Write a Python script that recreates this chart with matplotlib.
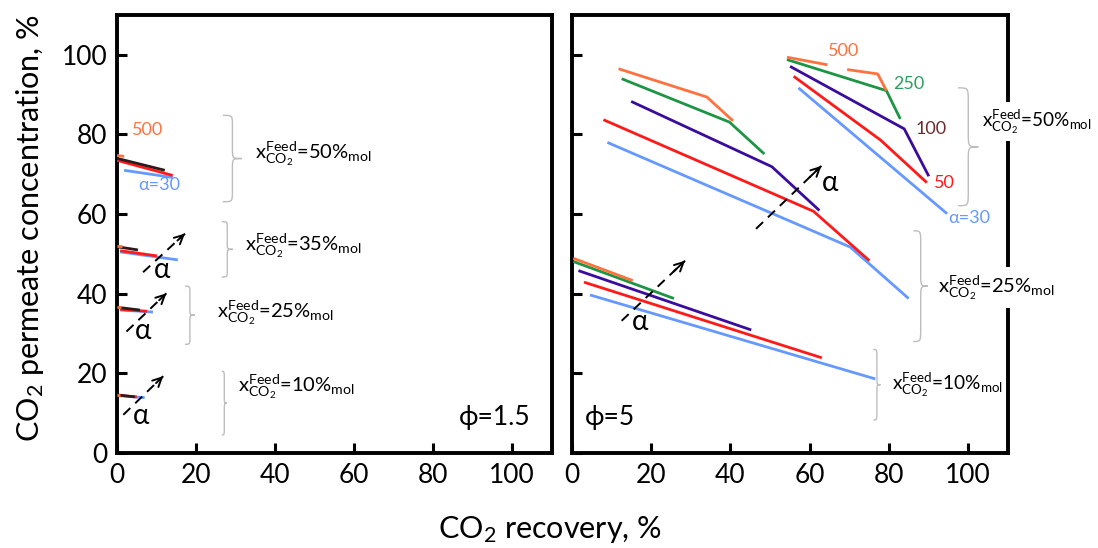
import numpy as np
import matplotlib
matplotlib.use("Agg")
import matplotlib.pyplot as plt
from matplotlib.path import Path
from matplotlib.patches import PathPatch

plt.rcParams["font.family"] = ["Lato", "DejaVu Sans"]
plt.rcParams["mathtext.fontset"] = "custom"
plt.rcParams["mathtext.rm"] = "Lato"
plt.rcParams["mathtext.it"] = "Lato:italic"
plt.rcParams["mathtext.bf"] = "Lato:bold"

nan = np.nan

# ---- phi = 1.5 : CO2 recovery (%) and permeate CO2 concentration (%) per selectivity alpha
p15_f50_rec = {500: [0, 1.8], 100: [0, 12.1], 50: [0, 14.1], 30: [1.8, 14.1]}
p15_f50_conc = {500: [74.7, 74.5], 100: [74.0, 71.0], 50: [73.5, 69.7], 30: [71.0, 69.2]}
p15_f35_rec = {500: [0, 1.3], 100: [0, 5.3], 50: [0.8, 10.1], 30: [0.8, 15.4]}
p15_f35_conc = {500: [52.0, 52.0], 100: [51.8, 51.0], 50: [50.8, 49.5], 30: [50.5, 48.5]}
p15_f25_rec = {500: [0, 1.0], 100: [0, 5.8], 50: [0.8, 7.6], 30: [0.8, 9.1]}
p15_f25_conc = {500: [36.6, 36.6], 100: [36.6, 35.9], 50: [36.1, 35.6], 30: [35.9, 35.4]}
p15_f10_rec = {500: [0, 0.8], 100: [0, 4.5], 50: [0.8, 5.0], 30: [4.0, 7.0]}
p15_f10_conc = {500: [14.6, 14.6], 100: [14.6, 14.1], 50: [14.4, 14.1], 30: [14.1, 13.9]}

# ---- phi = 5
p5_f50_rec = {500: [54.3, 64.5, nan, 69.5, 77.2, 79.4], 250: [54.3, 79.4, 82.9],
              100: [55.1, 83.9, 90.1], 50: [56.0, 77.9, 89.6], 30: [57.2, 94.7]}
p5_f50_conc = {500: [99.4, 97.5, nan, 96.3, 95.2, 91.0], 250: [98.8, 91.0, 83.9],
               100: [97.1, 81.4, 69.5], 50: [94.6, 78.6, 67.9], 30: [91.7, 60.1]}
p5_f25_rec = {500: [11.8, 34.1, 40.7], 250: [12.6, 39.8, 48.6], 100: [15.0, 50.5, 62.5],
              50: [8.0, 61.0, 75.1], 30: [9.0, 70.3, 85.0]}
p5_f25_conc = {500: [96.5, 89.4, 83.4], 250: [94.0, 83.1, 75.1], 100: [88.3, 71.9, 60.9],
               50: [83.7, 60.7, 48.3], 30: [78.0, 51.7, 38.8]}
p5_f10_rec = {500: [0.4, 15.4], 250: [0.4, 25.8], 100: [1.7, 45.3], 50: [3.1, 63.1], 30: [4.6, 76.6]}
p5_f10_conc = {500: [48.9, 43.3], 250: [48.1, 38.8], 100: [45.8, 30.9], 50: [42.9, 23.9], 30: [39.7, 18.6]}

ticks = [0, 20, 40, 60, 80, 100]
draw_order = [30, 50, 100, 250, 500]

colors_p5 = {500: "#FF7240", 250: "#1E9445", 100: "#3A0C9C", 50: "#FF1A1A", 30: "#6699FF"}
colors_p15 = {500: "#FF7240", 100: "#2E1A1A", 50: "#FF1A1A", 30: "#6699FF"}
label_colors = {500: "#FF7240", 250: "#2E9E5E", 100: "#6B2B2B", 50: "#FF1A1A", 30: "#6699FF"}
brace_color = "#BDBDBD"
FEED_FS = 14.5


def feed_label(pct):
    return r"$\mathregular{x^{Feed}_{CO_2}}$=" + f"{pct}%" + r"$\mathregular{_{mol}}$"


def brace(ax, x0, x1, ylo, yhi):
    xm = (x0 + x1) / 2
    ym = (ylo + yhi) / 2
    q = (yhi - ylo) * 0.12
    verts = [(x0, yhi), (xm, yhi), (xm, yhi), (xm, yhi - q),
             (xm, ym + q),
             (xm, ym), (xm, ym), (x1, ym),
             (xm, ym), (xm, ym), (xm, ym - q),
             (xm, ylo + q),
             (xm, ylo), (xm, ylo), (x0, ylo)]
    codes = [Path.MOVETO, Path.CURVE4, Path.CURVE4, Path.CURVE4,
             Path.LINETO,
             Path.CURVE4, Path.CURVE4, Path.CURVE4,
             Path.CURVE4, Path.CURVE4, Path.CURVE4,
             Path.LINETO,
             Path.CURVE4, Path.CURVE4, Path.CURVE4]
    ax.add_patch(PathPatch(Path(verts, codes), fill=False, ec=brace_color,
                           lw=1.0, clip_on=False, zorder=4))


def alpha_arrow(ax, start, end, label_xy):
    ax.plot([start[0], end[0]], [start[1], end[1]], color="black", lw=1.4,
            ls=(0, (5, 3.5)), clip_on=False, zorder=5)
    tip_from = (end[0] - 0.18 * (end[0] - start[0]), end[1] - 0.18 * (end[1] - start[1]))
    ax.annotate("", xy=end, xytext=tip_from,
                arrowprops=dict(arrowstyle="->", lw=1.4, color="black",
                                mutation_scale=16, shrinkA=0, shrinkB=0),
                zorder=5)
    ax.text(label_xy[0], label_xy[1], "α", fontsize=20, ha="left", va="center", zorder=5)


def draw_group(ax, rec, conc, colors):
    for a in draw_order:
        if a in rec:
            ax.plot(rec[a], conc[a], color=colors[a], lw=2.0, solid_capstyle="butt",
                    zorder=3)


fig = plt.figure(figsize=(10.98, 5.48), dpi=100)
axL = fig.add_axes([117 / 1098, 1 - 453 / 548, 434.7 / 1098, 438 / 548])
axR = fig.add_axes([571.7 / 1098, 1 - 453 / 548, 436 / 1098, 438 / 548])

for ax in (axL, axR):
    ax.set_xlim(0, 110)
    ax.set_ylim(0, 110)
    ax.set_xticks(ticks)
    ax.set_yticks(ticks)
    for s in ax.spines.values():
        s.set_linewidth(2.8)
    ax.tick_params(direction="in", length=7, width=2.2, labelsize=19, pad=7)
axR.tick_params(labelleft=False)

# ---- left panel, phi = 1.5
for rec, conc in [(p15_f50_rec, p15_f50_conc), (p15_f35_rec, p15_f35_conc),
                  (p15_f25_rec, p15_f25_conc), (p15_f10_rec, p15_f10_conc)]:
    draw_group(axL, rec, conc, colors_p15)

axL.text(3.7, 81.1, "500", color=label_colors[500], fontsize=13, ha="left", va="center")
axL.text(5.3, 67.3, "α=30", color=label_colors[30], fontsize=13, ha="left", va="center")

alpha_arrow(axL, (6.6, 45.4), (17.2, 55.1), (9.4, 46.0))
alpha_arrow(axL, (2.4, 30.5), (12.5, 40.1), (4.4, 30.6))
alpha_arrow(axL, (1.6, 9.6), (11.7, 19.3), (3.9, 9.4))

brace(axL, 26.8, 31.6, 63.1, 84.8)
brace(axL, 26.5, 29.3, 44.2, 58.1)
brace(axL, 17.2, 19.7, 27.3, 41.9)
brace(axL, 26.5, 27.8, 4.5, 20.5)

axL.text(34.8, 74.0, feed_label(50), fontsize=FEED_FS, ha="left", va="baseline", zorder=6)
axL.text(32.3, 50.8, feed_label(35), fontsize=FEED_FS, ha="left", va="baseline", zorder=6)
axL.text(25.3, 34.0, feed_label(25), fontsize=FEED_FS, ha="left", va="baseline", zorder=6)
axL.text(30.6, 15.5, feed_label(10), fontsize=FEED_FS, ha="left", va="baseline", zorder=6)

axL.text(86.6, 7.1, "ϕ=1.5", fontsize=19, ha="left", va="baseline")

# ---- right panel, phi = 5
for rec, conc in [(p5_f50_rec, p5_f50_conc), (p5_f25_rec, p5_f25_conc),
                  (p5_f10_rec, p5_f10_conc)]:
    draw_group(axR, rec, conc, colors_p5)

axR.text(64.7, 100.9, "500", color=label_colors[500], fontsize=13, ha="left", va="center")
axR.text(81.2, 92.7, "250", color=label_colors[250], fontsize=13, ha="left", va="center")
axR.text(86.7, 81.4, "100", color=label_colors[100], fontsize=13, ha="left", va="center")
axR.text(91.3, 67.9, "50", color=label_colors[50], fontsize=13, ha="left", va="center")
axR.text(95.1, 59.0, "α=30", color=label_colors[30], fontsize=13, ha="left", va="center",
         clip_on=False)

alpha_arrow(axR, (46.5, 56.3), (63.0, 72.1), (63.1, 67.9))
alpha_arrow(axR, (12.6, 33.2), (28.6, 48.3), (15.2, 32.8))

brace(axR, 97.5, 102.6, 62.1, 91.7)
brace(axR, 86.2, 89.9, 28.0, 55.8)
brace(axR, 76.1, 77.9, 8.3, 26.0)

box = dict(facecolor="white", edgecolor="none", boxstyle="square,pad=0.3")
axR.text(103.6, 82.0, feed_label(50), fontsize=13.6, ha="left", va="baseline",
         zorder=6, clip_on=False, bbox=box)
axR.text(92.5, 40.3, feed_label(25), fontsize=FEED_FS, ha="left", va="baseline",
         zorder=6, clip_on=False, bbox=box)
axR.text(80.7, 15.9, feed_label(10), fontsize=13.8, ha="left", va="baseline",
         zorder=6, clip_on=False)

axR.text(3.4, 7.1, "ϕ=5", fontsize=19, ha="left", va="baseline")

# ---- axis titles
fig.text(550 / 1098, 1 - 538 / 548, r"CO$_2$ recovery, %", fontsize=22,
         ha="center", va="baseline")
fig.text(0.027, 0.583, r"CO$_2$ permeate concentration, %", fontsize=22,
         rotation=90, ha="center", va="center")

fig.savefig("out.png", dpi=100)
